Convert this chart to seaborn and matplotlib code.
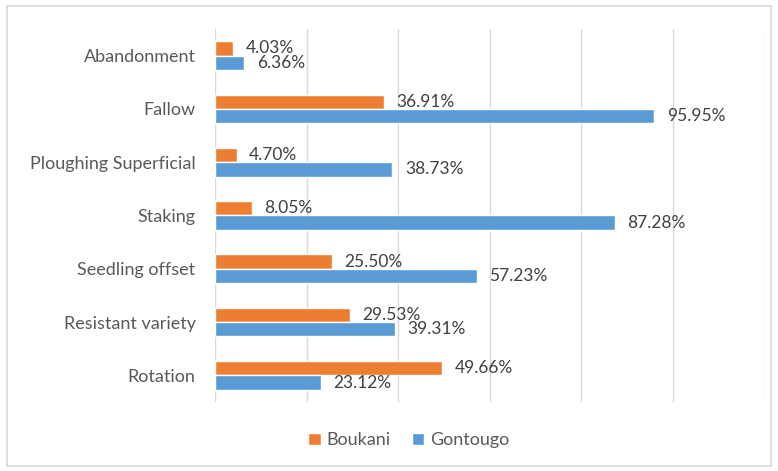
import numpy as np
import pandas as pd
import matplotlib.pyplot as plt
import seaborn as sns
from matplotlib.patches import Rectangle

categories = ["Abandonment", "Fallow", "Ploughing Superficial", "Staking",
              "Seedling offset", "Resistant variety", "Rotation"]
boukani = [4.03, 36.91, 4.70, 8.05, 25.50, 29.53, 49.66]
gontougo = [6.36, 95.95, 38.73, 87.28, 57.23, 39.31, 23.12]
series = ["Boukani", "Gontougo"]
colors = ["#ED7D31", "#5B9BD5"]

df = pd.DataFrame({
    "Practice": categories * 2,
    "Value": boukani + gontougo,
    "Site": ["Boukani"] * len(categories) + ["Gontougo"] * len(categories),
})

sns.set_style("white")
plt.rcParams["font.family"] = ["Lato", "DejaVu Sans"]

fig = plt.figure(figsize=(7.78, 4.71), dpi=100)
ax = fig.add_axes([0.2764, 0.1465, 0.706, 0.792])

sns.barplot(data=df, x="Value", y="Practice", hue="Site", hue_order=series,
            order=categories, palette=colors, orient="h", width=0.54,
            saturation=1, ax=ax, legend=True)

for cont in ax.containers:
    ax.bar_label(cont, fmt="%.2f%%", padding=9, fontsize=12.5, color="#404040")

ax.set_xlim(0, 120)
ax.set_xticks(np.arange(0, 121, 20))
ax.set_xticklabels([])
ax.tick_params(axis="both", length=0)
ax.tick_params(axis="y", labelsize=13, labelcolor="#595959", pad=14)
ax.grid(axis="x", color="#d9d9d9", linewidth=1)
ax.set_axisbelow(True)
for s in ax.spines.values():
    s.set_visible(False)
ax.set_xlabel("")
ax.set_ylabel("")

ax.legend(loc="center", bbox_to_anchor=(0.525, 0.065), bbox_transform=fig.transFigure,
          ncol=2, frameon=False, fontsize=13, handlelength=0.7, handleheight=0.7,
          handletextpad=0.3, columnspacing=1.2, labelcolor="#595959")

fig.patches.append(Rectangle((0.009, 0.01), 0.982, 0.978, transform=fig.transFigure,
                             fill=False, edgecolor="#d9d9d9", linewidth=1.2))

fig.savefig("out.png", dpi=100)
